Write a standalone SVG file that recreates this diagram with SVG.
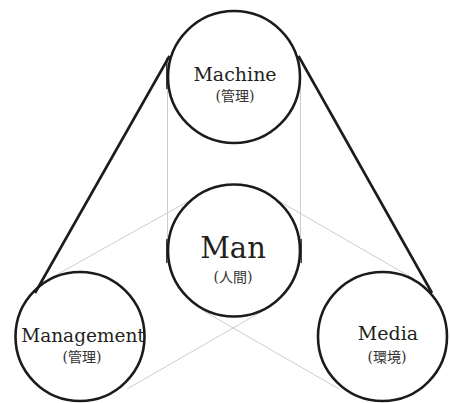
<svg xmlns="http://www.w3.org/2000/svg" width="450" height="403" viewBox="0 0 450 403">
<style>
.belt{stroke:#1e1a1b;stroke-width:2.6;fill:none;stroke-linecap:butt}
.thin{stroke:#c0c0c0;stroke-width:0.8;fill:none}
.mark{stroke:#1e1a1b;stroke-width:1.3;fill:none}
.node{fill:#fff;stroke:#1e1a1b;stroke-width:2.6}
.en{font-family:"DejaVu Serif","Liberation Serif",serif;fill:#231f20;text-anchor:middle}
.jp{font-family:"DejaVu Serif","Noto Sans CJK JP",serif;fill:#333;text-anchor:middle;font-size:14px}
</style>
<rect width="450" height="403" fill="#fff"/>
<g id="connectors">
  <line class="thin" x1="167.5" y1="77" x2="167.5" y2="251"/>
  <line class="thin" x1="300.5" y1="77" x2="300.5" y2="251"/>
  <line class="thin" x1="49" y1="279" x2="203" y2="193"/>
  <line class="thin" x1="265" y1="193" x2="414" y2="279"/>
  <line class="thin" x1="127" y1="389" x2="266" y2="309"/>
  <line class="thin" x1="202" y1="310" x2="339" y2="389"/>
</g>
<g id="node-machine">
  <circle class="node" cx="234" cy="77" r="66"/>
  <text class="en" x="235" y="81" font-size="19">Machine</text>
  <text class="jp" x="235" y="101">(管理)</text>
</g>
<g id="node-man">
  <circle class="node" cx="234" cy="250.5" r="66"/>
  <text class="en" x="233" y="258" font-size="29">Man</text>
  <text class="jp" x="233" y="281.5">(人間)</text>
</g>
<g id="node-management">
  <circle class="node" cx="80" cy="336.5" r="64.5"/>
  <text class="en" x="83" y="342" font-size="18.5">Management</text>
  <text class="jp" x="82" y="362">(管理)</text>
</g>
<g id="node-media">
  <circle class="node" cx="382.5" cy="336.5" r="64.5"/>
  <text class="en" x="388" y="339.5" font-size="19">Media</text>
  <text class="jp" x="387" y="362">(環境)</text>
</g>
<g id="belt">
  <line class="belt" x1="169.5" y1="56" x2="35" y2="293"/>
  <line class="belt" x1="298.5" y1="56" x2="432" y2="293"/>
  <line class="mark" x1="166.8" y1="58" x2="166.8" y2="89"/>
  <line class="mark" x1="166.8" y1="239" x2="166.8" y2="263"/>
  <line class="mark" x1="301.2" y1="239" x2="301.2" y2="263"/>
</g>
</svg>
